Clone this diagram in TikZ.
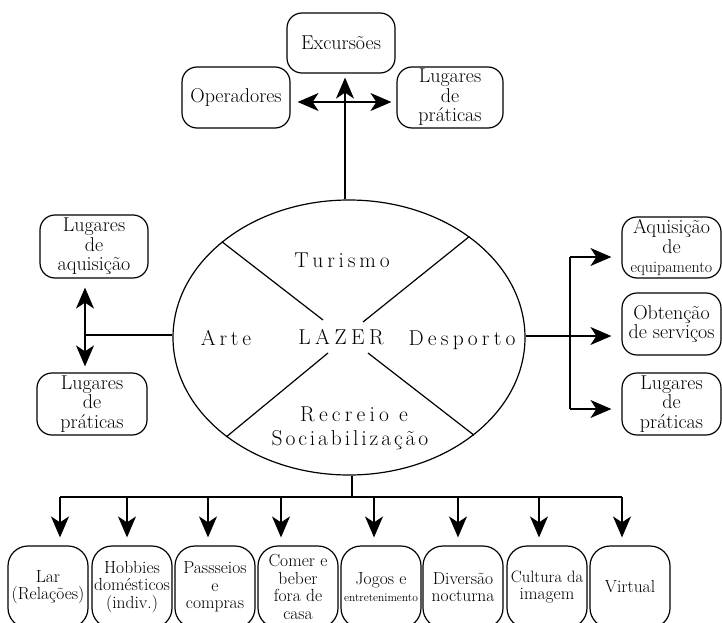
\documentclass[tikz,border=0pt]{standalone}
\usepackage{fontspec}
\usetikzlibrary{arrows.meta,shapes.geometric}
\ExplSyntaxOn
\NewDocumentCommand\spc{O{3.8pt}m}{ \tl_map_inline:nn {#2} { ##1 \kern #1 } \unkern }
\ExplSyntaxOff
\begin{document}
\begin{tikzpicture}[x=1pt,y=-1pt,line width=1.2pt,
  box/.style={draw,rounded corners=15pt,align=center,inner sep=1pt,font=\fontsize{20}{19.5}\selectfont},
  sbox/.style={box,rounded corners=20pt,minimum width=80pt,minimum height=82pt,font=\fontsize{17.5}{17.5}\selectfont},
  arr/.style={-{Stealth[length=21pt,width=18pt,inset=6pt]}},
  darr/.style={{Stealth[length=21pt,width=18pt,inset=6pt]}-{Stealth[length=21pt,width=18pt,inset=6pt]}},
  elt/.style={font=\fontsize{21.5}{17}\selectfont,anchor=base,inner sep=0pt}
]
\useasboundingbox (0,0) rectangle (722,623);
\clip (0,0) rectangle (722,623);

% central ellipse
\node[draw,ellipse,inner sep=0pt,minimum width=352pt,minimum height=275pt] (ell) at (349,337.5) {};
\coordinate (c1) at (323,320);
\coordinate (c2) at (363,322);
\coordinate (c3) at (328,353);
\coordinate (c4) at (368,353);
\draw (ell.143) -- (c1);
\draw (ell.40) -- (c2);
\draw (ell.219) -- (c3);
\draw (ell.322) -- (c4);
\node[elt] (tur) at (342,267) {\spc{Turismo}};
\node[elt] (arte) at (226,345) {\spc{Arte}};
\node[elt] (lazer) at (341,344) {\spc[4.5pt]{LAZER}};
\node[elt] (desp) at (462,345) {\spc[4.2pt]{Desporto}};
\node[elt] (rec) at (354,421) {\spc[4.2pt]{Recreio}\hspace{10pt}\spc{e}};
\node[elt] (soc) at (350,445) {\spc[2.9pt]{Sociabilização}};

% top boxes
\node[box,minimum width=108pt,minimum height=60pt] (exc) at (341,43) {Excursões};
\node[box,minimum width=108pt,minimum height=61pt] (oper) at (236,97.5) {Operadores};
\node[box,minimum width=106pt,minimum height=61pt] (lugt) at (450,97.5) {Lugares\\de\\práticas};

% left boxes
\node[box,minimum width=108pt,minimum height=63pt] (lugaq) at (94,246.5) {Lugares\\de\\aquisição};
\node[box,minimum width=110pt,minimum height=62pt] (lugpl) at (92,404) {Lugares\\de\\práticas};

% right boxes
\node[box,minimum width=99pt,minimum height=61pt] (aqeq) at (671.5,247.5) {Aquisição\\de\\{\fontsize{16}{17}\selectfont equipamento}};
\node[box,minimum width=99pt,minimum height=62pt] (obt) at (671.5,324) {Obtenção\\de serviços};
\node[box,minimum width=99pt,minimum height=62pt] (lugr) at (671.5,404) {Lugares\\de\\práticas};

% bottom boxes
\node[sbox] (b1) at (48,587) {Lar\\(Relações)};
\node[sbox] (b2) at (132,587) {Hobbies\\domésticos\\(indiv.)};
\node[sbox] (b3) at (215,587) {Passseios\\e\\compras};
\node[sbox] (b4) at (298,587) {Comer e\\beber\\fora de\\casa};
\node[sbox] (b5) at (381,587) {Jogos e\\{\fontsize{11.5}{13}\selectfont entretenimento}};
\node[sbox] (b6) at (463,587) {Diversão\\nocturna};
\node[sbox] (b7) at (547,587) {{\fontsize{16.5}{17.5}\selectfont Cultura da}\\imagem};
\node[sbox] (b8) at (630,587) {Virtual};

% top connectors
\coordinate (tj) at (345,102);
\draw[arr,shorten >=4pt] (tj |- ell.north) -- (tj |- exc.south);
\draw[darr,shorten <=7pt,shorten >=5pt] (tj -| oper.east) -- (tj -| lugt.west);

% left connectors
\coordinate (lj) at (85,335);
\draw (lj) -- (lj -| ell.west);
\draw[darr,shorten <=9pt,shorten >=6pt] (lj |- lugaq.south) -- (lj |- lugpl.north);

% right connectors
\coordinate (rj) at (570,336);
\coordinate (ru) at (570,257);
\coordinate (rd) at (570,409);
\draw[arr,shorten >=10pt] (rj -| ell.east) -- (rj -| obt.west);
\draw (ru) -- (rd);
\draw[arr,shorten >=10pt] (ru) -- (ru -| aqeq.west);
\draw[arr,shorten >=10pt] (rd) -- (rd -| lugr.west);

% bottom connectors
\coordinate (bj) at (352,497);
\draw (bj |- ell.south) -- (bj);
\coordinate (a1) at (60,497);
\coordinate (a2) at (127,497);
\coordinate (a3) at (208,497);
\coordinate (a4) at (281,497);
\coordinate (a5) at (374,497);
\coordinate (a6) at (458,497);
\coordinate (a7) at (539,497);
\coordinate (a8) at (622,497);
\draw (a1) -- (a8);
\foreach \i in {1,...,8} {
  \draw[arr,shorten >=8pt] (a\i) -- (a\i |- b\i.north);
}
\end{tikzpicture}
\end{document}
